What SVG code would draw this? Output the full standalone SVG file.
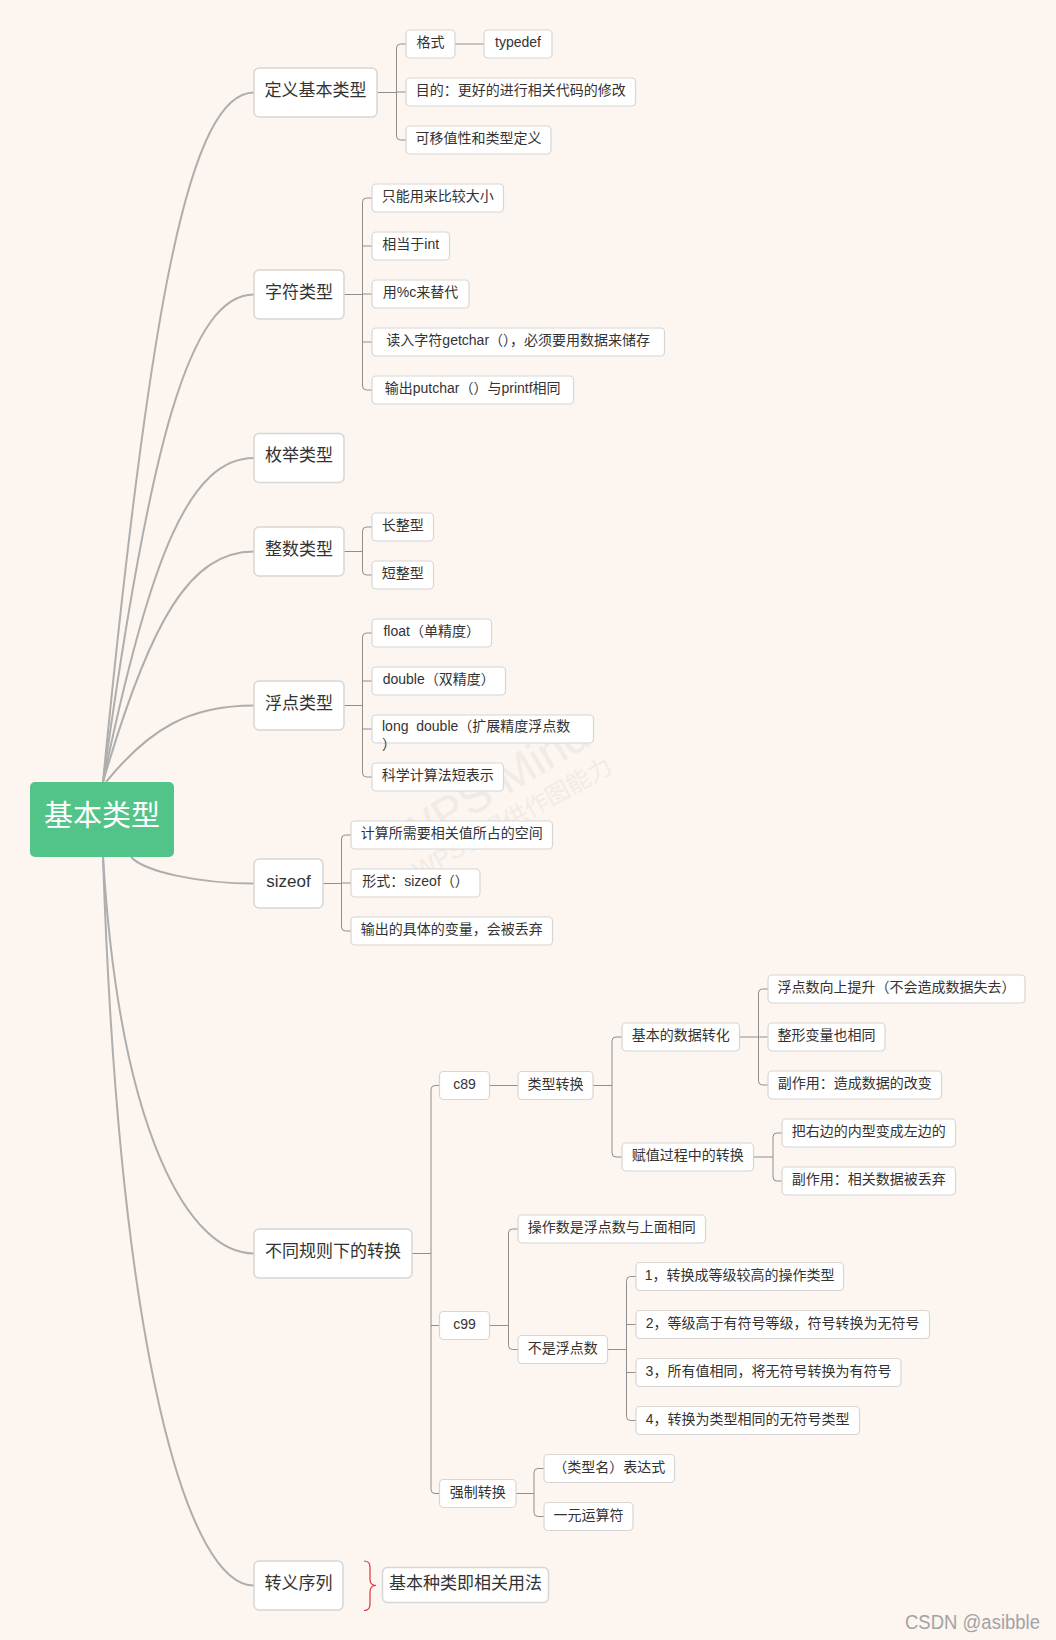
<svg xmlns="http://www.w3.org/2000/svg" width="1056" height="1640" viewBox="0 0 1056 1640">
<style>
.cv{fill:none;stroke:#AEAEAE;stroke-width:2}
.br{fill:none;stroke:#8E8E8E;stroke-width:1}
.n1 rect{fill:#fff;stroke:#D6D6D6;stroke-width:1.5}
.n2 rect{fill:#fff;stroke:#D6D6D6;stroke-width:1.2}
text{font-family:"Liberation Sans","Noto Sans CJK SC",sans-serif;fill:#333;dominant-baseline:central}
.n1 text{font-size:17px;text-anchor:middle}
.n2 text{font-size:14px;text-anchor:middle}
.wm{font-family:"Liberation Serif","Noto Sans CJK SC",serif;fill:#000;opacity:.05;dominant-baseline:alphabetic}
</style>
<rect width="1056" height="1640" fill="#FCF5F0"/>
<g class="wm">
<text transform="translate(398,842) rotate(-31)" font-size="46">WPS Mind</text>
<text transform="translate(415,872) rotate(-29)" font-size="24">WPS仅提供作图能力</text>
</g>
<g id="connectors">
<path class="cv" d="M103 782 C150 299 190 92.5 254 92.5"/>
<path class="cv" d="M103 782 C150 441 190 294.5 254 294.5"/>
<path class="cv" d="M103 782 C150 555 190 458 254 458"/>
<path class="cv" d="M103 782 C150 621 190 551.5 254 551.5"/>
<path class="cv" d="M106 782 C150 728 190 705.5 254 705.5"/>
<path class="cv" d="M131 857 C145 872 200 883.5 254 883.5"/>
<path class="cv" d="M103 857 C120 1136 190 1253.5 254 1253.5"/>
<path class="cv" d="M103 857 C120 1367 190 1585.5 254 1585.5"/>
<path class="br" d="M377 92.5 H396.5 M406 44 H400.5 Q396.5 44 396.5 48 V136 Q396.5 140 400.5 140 H406 M396.5 92 H406"/>
<path class="br" d="M455 44 H484"/>
<path class="br" d="M344 294.5 H362.5 M372 198 H366.5 Q362.5 198 362.5 202 V386 Q362.5 390 366.5 390 H372 M362.5 246 H372 M362.5 294 H372 M362.5 342 H372"/>
<path class="br" d="M344 551.5 H362.5 M372 527 H366.5 Q362.5 527 362.5 531 V571 Q362.5 575 366.5 575 H372"/>
<path class="br" d="M344 705.5 H362.5 M372 633 H366.5 Q362.5 633 362.5 637 V773 Q362.5 777 366.5 777 H372 M362.5 681 H372 M362.5 729 H372"/>
<path class="br" d="M323 883.5 H341.5 M351 835 H345.5 Q341.5 835 341.5 839 V927 Q341.5 931 345.5 931 H351 M341.5 883 H351"/>
<path class="br" d="M412 1253.5 H431 M439.5 1085.5 H435 Q431 1085.5 431 1089.5 V1489.5 Q431 1493.5 435 1493.5 H439.5 M431 1325.5 H439.5"/>
<path class="br" d="M489.5 1085.5 H518"/>
<path class="br" d="M593 1085.5 H612 M622 1037 H616 Q612 1037 612 1041 V1153 Q612 1157 616 1157 H622"/>
<path class="br" d="M739.5 1037 H758.5 M768 989 H762.5 Q758.5 989 758.5 993 V1081 Q758.5 1085 762.5 1085 H768 M758.5 1037 H768"/>
<path class="br" d="M753.5 1157 H773 M782 1133 H777 Q773 1133 773 1137 V1177 Q773 1181 777 1181 H782"/>
<path class="br" d="M489.5 1325.5 H508.5 M518 1229 H512.5 Q508.5 1229 508.5 1233 V1345.5 Q508.5 1349.5 512.5 1349.5 H518"/>
<path class="br" d="M607.5 1349.5 H626.5 M636 1276.5 H630.5 Q626.5 1276.5 626.5 1280.5 V1416.5 Q626.5 1420.5 630.5 1420.5 H636 M626.5 1324.5 H636 M626.5 1372.5 H636"/>
<path class="br" d="M516 1493.5 H534 M544 1468.5 H538 Q534 1468.5 534 1472.5 V1512.5 Q534 1516.5 538 1516.5 H544"/>
<path d="M364 1561 Q370 1561 370 1567 V1579 Q370 1585.5 376 1585.5 Q370 1585.5 370 1592 V1604 Q370 1610.5 364 1610.5" fill="none" stroke="#D9363E" stroke-width="1.2"/>
</g>

<g id="root">
<rect x="30" y="782" width="144" height="75" rx="5" fill="#52C48A"/>
<text x="102" y="816" font-size="29" text-anchor="middle" style="fill:#fff">基本类型</text>
</g>

<g id="n-dingyi" class="n1"><rect x="254" y="68" width="123" height="49" rx="5"/><text x="315.5" y="90">定义基本类型</text></g>
<g id="n-zifu" class="n1"><rect x="254" y="270" width="90" height="49" rx="5"/><text x="299" y="292">字符类型</text></g>
<g id="n-meiju" class="n1"><rect x="254" y="433.5" width="90" height="49" rx="5"/><text x="299" y="455.5">枚举类型</text></g>
<g id="n-zhengshu" class="n1"><rect x="254" y="527" width="90" height="49" rx="5"/><text x="299" y="549">整数类型</text></g>
<g id="n-fudian" class="n1"><rect x="254" y="681" width="90" height="49" rx="5"/><text x="299" y="703">浮点类型</text></g>
<g id="n-sizeof" class="n1"><rect x="254" y="859" width="69" height="49" rx="5"/><text x="288.5" y="881">sizeof</text></g>
<g id="n-butong" class="n1"><rect x="254" y="1229" width="158" height="49" rx="5"/><text x="333" y="1251">不同规则下的转换</text></g>
<g id="n-zhuanyi" class="n1"><rect x="254" y="1561" width="89" height="49" rx="5"/><text x="298.5" y="1583">转义序列</text></g>
<g id="n-jiben" class="n1"><rect x="382.5" y="1567.5" width="166" height="35" rx="5"/><text x="465.5" y="1583">基本种类即相关用法</text></g>

<g id="n-geshi" class="n2"><rect x="406" y="30" width="49" height="28" rx="4"/><text x="430.5" y="42">格式</text></g>
<g id="n-typedef" class="n2"><rect x="484" y="30" width="68" height="28" rx="4"/><text x="518" y="42">typedef</text></g>
<g id="n-mudi" class="n2"><rect x="406" y="78" width="229.5" height="28" rx="4"/><text x="520.7" y="90">目的：更好的进行相关代码的修改</text></g>
<g id="n-keyi" class="n2"><rect x="406" y="126" width="145" height="28" rx="4"/><text x="478.5" y="138">可移值性和类型定义</text></g>

<g id="n-zhineng" class="n2"><rect x="372" y="184" width="131.5" height="28" rx="4"/><text x="437.7" y="196">只能用来比较大小</text></g>
<g id="n-xiangdang" class="n2"><rect x="372" y="232" width="77.5" height="28" rx="4"/><text x="410.7" y="244">相当于int</text></g>
<g id="n-yongc" class="n2"><rect x="372" y="280" width="97" height="28" rx="4"/><text x="420.5" y="292">用%c来替代</text></g>
<g id="n-duru" class="n2"><rect x="372" y="328" width="292.5" height="28" rx="4"/><text x="518.2" y="340">读入字符getchar（），必须要用数据来储存</text></g>
<g id="n-shuchu" class="n2"><rect x="372" y="376" width="201.5" height="28" rx="4"/><text x="472.7" y="388">输出putchar（）与printf相同</text></g>

<g id="n-chang" class="n2"><rect x="372" y="513" width="61.5" height="28" rx="4"/><text x="402.7" y="525">长整型</text></g>
<g id="n-duan" class="n2"><rect x="372" y="561" width="61.5" height="28" rx="4"/><text x="402.7" y="573">短整型</text></g>

<g id="n-float" class="n2"><rect x="372" y="619" width="119.5" height="28" rx="4"/><text x="431.7" y="631">float（单精度）</text></g>
<g id="n-double" class="n2"><rect x="372" y="667" width="133.5" height="28" rx="4"/><text x="438.7" y="679">double（双精度）</text></g>
<g id="n-long" class="n2"><rect x="372" y="715" width="221.5" height="28" rx="4"/><text x="382" y="725.5" style="text-anchor:start">long&#160;&#160;double（扩展精度浮点数<tspan x="382" dy="18">）</tspan></text></g>
<g id="n-kexue" class="n2"><rect x="372" y="763" width="131.5" height="28" rx="4"/><text x="437.7" y="775">科学计算法短表示</text></g>

<g id="n-jisuan" class="n2"><rect x="351" y="821" width="201.5" height="28" rx="4"/><text x="451.7" y="833">计算所需要相关值所占的空间</text></g>
<g id="n-xingshi" class="n2"><rect x="351" y="869" width="129" height="28" rx="4"/><text x="415.5" y="881">形式：sizeof（）</text></g>
<g id="n-shuchu2" class="n2"><rect x="351" y="917" width="201.5" height="28" rx="4"/><text x="451.7" y="929">输出的具体的变量，会被丢弃</text></g>

<g id="n-c89" class="n2"><rect x="439.5" y="1071.5" width="50" height="28" rx="4"/><text x="464.5" y="1083.5">c89</text></g>
<g id="n-leixing" class="n2"><rect x="518" y="1071.5" width="75" height="28" rx="4"/><text x="555.5" y="1083.5">类型转换</text></g>
<g id="n-jibenzh" class="n2"><rect x="622" y="1023" width="117.5" height="28" rx="4"/><text x="680.7" y="1035">基本的数据转化</text></g>
<g id="n-fdxs" class="n2"><rect x="768" y="975" width="257" height="28" rx="4"/><text x="896.5" y="987">浮点数向上提升（不会造成数据失去）</text></g>
<g id="n-zxbl" class="n2"><rect x="768" y="1023" width="117" height="28" rx="4"/><text x="826.5" y="1035">整形变量也相同</text></g>
<g id="n-fzy1" class="n2"><rect x="768" y="1071" width="173.5" height="28" rx="4"/><text x="854.7" y="1083">副作用：造成数据的改变</text></g>
<g id="n-fuzhi" class="n2"><rect x="622" y="1143" width="131.5" height="28" rx="4"/><text x="687.7" y="1155">赋值过程中的转换</text></g>
<g id="n-bayou" class="n2"><rect x="782" y="1119" width="173.5" height="28" rx="4"/><text x="868.7" y="1131">把右边的内型变成左边的</text></g>
<g id="n-fzy2" class="n2"><rect x="782" y="1167" width="173.5" height="28" rx="4"/><text x="868.7" y="1179">副作用：相关数据被丢弃</text></g>
<g id="n-caozuo" class="n2"><rect x="518" y="1215" width="187.5" height="28" rx="4"/><text x="611.7" y="1227">操作数是浮点数与上面相同</text></g>
<g id="n-c99" class="n2"><rect x="439.5" y="1311.5" width="50" height="28" rx="4"/><text x="464.5" y="1323.5">c99</text></g>
<g id="n-bushi" class="n2"><rect x="518" y="1335.5" width="89.5" height="28" rx="4"/><text x="562.7" y="1347.5">不是浮点数</text></g>
<g id="n-r1" class="n2"><rect x="636" y="1262.5" width="207.5" height="28" rx="4"/><text x="739.7" y="1274.5">1，转换成等级较高的操作类型</text></g>
<g id="n-r2" class="n2"><rect x="636" y="1310.5" width="293.5" height="28" rx="4"/><text x="782.7" y="1322.5">2，等级高于有符号等级，符号转换为无符号</text></g>
<g id="n-r3" class="n2"><rect x="636" y="1358.5" width="265" height="28" rx="4"/><text x="768.5" y="1370.5">3，所有值相同，将无符号转换为有符号</text></g>
<g id="n-r4" class="n2"><rect x="636" y="1406.5" width="223.5" height="28" rx="4"/><text x="747.7" y="1418.5">4，转换为类型相同的无符号类型</text></g>
<g id="n-qiangzhi" class="n2"><rect x="439.5" y="1479.5" width="76.5" height="28" rx="4"/><text x="477.7" y="1491.5">强制转换</text></g>
<g id="n-leixingming" class="n2"><rect x="544" y="1454.5" width="130.5" height="28" rx="4"/><text x="609.2" y="1466.5">（类型名）表达式</text></g>
<g id="n-yiyuan" class="n2"><rect x="544" y="1502.5" width="89" height="28" rx="4"/><text x="588.5" y="1514.5">一元运算符</text></g>

<text x="905" y="1629" font-size="20" textLength="135" lengthAdjust="spacingAndGlyphs" style="font-family:'Liberation Sans',sans-serif;fill:#A3A3A3;dominant-baseline:alphabetic">CSDN @asibble</text>
</svg>
